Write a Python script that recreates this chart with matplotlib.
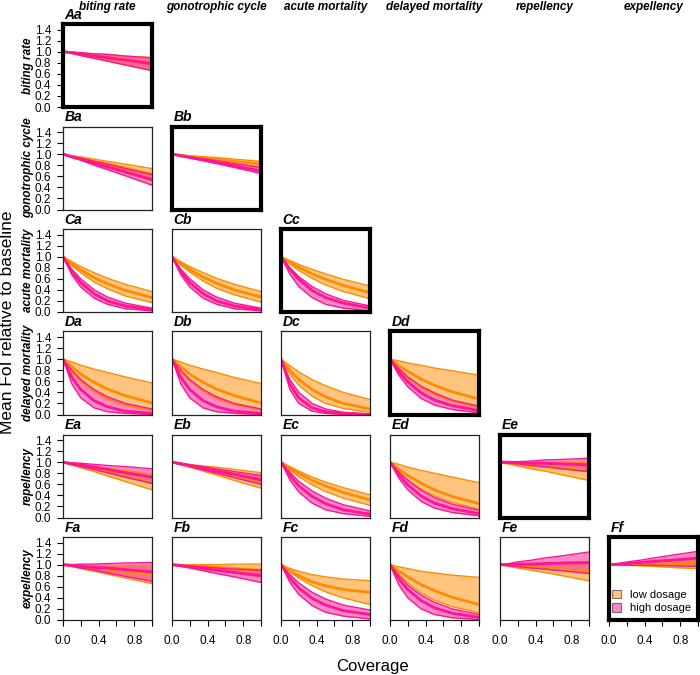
import numpy as np
import matplotlib
matplotlib.use("Agg")
from matplotlib import pyplot as plt
from matplotlib.patches import Patch

plt.rcParams['font.family'] = ['Liberation Sans', 'DejaVu Sans']

# effects (rows / columns)
effects = ["biting rate", "gonotrophic cycle", "acute mortality",
           "delayed mortality", "repellency", "expellency"]

coverage = [0, 0.1, 0.2, 0.35, 0.5, 0.7, 1.0]

# panels in order Aa, Ba, Bb, Ca, Cb, Cc, ... Ff
panels = ["Aa", "Ba", "Bb", "Ca", "Cb", "Cc", "Da", "Db", "Dc", "Dd",
          "Ea", "Eb", "Ec", "Ed", "Ee", "Fa", "Fb", "Fc", "Fd", "Fe", "Ff"]

# low dosage: lower bound, mean, upper bound
low_lo = [
    [1, .97, .93, .88, .83, .76, .66],
    [1, .95, .90, .83, .76, .66, .52],
    [1, .98, .95, .92, .88, .83, .76],
    [1, .84, .71, .54, .42, .29, .17],
    [1, .85, .72, .56, .43, .31, .18],
    [1, .87, .75, .61, .49, .37, .24],
    [1, .77, .59, .40, .27, .16, .07],
    [1, .77, .60, .41, .28, .17, .08],
    [1, .73, .53, .33, .20, .11, .04],
    [1, .81, .65, .48, .35, .23, .12],
    [1, .95, .90, .83, .75, .65, .50],
    [1, .95, .91, .84, .77, .67, .53],
    [1, .86, .74, .59, .47, .35, .22],
    [1, .83, .68, .51, .39, .27, .15],
    [1, .97, .93, .88, .84, .77, .67],
    [1, .97, .93, .88, .83, .76, .66],
    [1, .98, .96, .92, .89, .85, .78],
    [1, .87, .76, .62, .51, .40, .28],
    [1, .82, .67, .49, .36, .24, .13],
    [1, .97, .94, .90, .86, .80, .71],
    [1, .99, .99, .98, .97, .95, .93],
]
low_mid = [
    [1, .98, .96, .92, .89, .85, .78],
    [1, .96, .93, .87, .82, .75, .64],
    [1, .98, .96, .94, .91, .87, .82],
    [1, .87, .76, .62, .51, .39, .26],
    [1, .88, .77, .63, .52, .40, .27],
    [1, .90, .81, .69, .59, .48, .35],
    [1, .86, .73, .58, .46, .34, .21],
    [1, .86, .73, .58, .46, .34, .21],
    [1, .80, .63, .45, .32, .20, .10],
    [1, .88, .78, .64, .53, .41, .28],
    [1, .96, .93, .87, .82, .74, .63],
    [1, .97, .93, .88, .83, .76, .66],
    [1, .89, .80, .67, .57, .45, .32],
    [1, .87, .76, .62, .50, .38, .25],
    [1, .98, .97, .94, .92, .89, .84],
    [1, .98, .97, .94, .92, .88, .83],
    [1, .99, .98, .97, .95, .93, .90],
    [1, .89, .80, .69, .62, .55, .50],
    [1, .88, .78, .64, .53, .41, .28],
    [1, .99, .97, .95, .94, .91, .87],
    [1, 1.0, 1.0, 1.01, 1.01, 1.01, 1.02],
]
low_hi = [
    [1, .99, .98, .96, .95, .92, .89],
    [1, .97, .95, .91, .87, .82, .74],
    [1, .99, .97, .95, .94, .91, .87],
    [1, .91, .82, .71, .61, .50, .37],
    [1, .91, .82, .71, .61, .50, .37],
    [1, .93, .86, .77, .69, .59, .47],
    [1, .95, .89, .82, .76, .68, .57],
    [1, .95, .89, .82, .76, .67, .56],
    [1, .88, .77, .63, .52, .40, .27],
    [1, .97, .93, .89, .84, .79, .71],
    [1, .98, .96, .92, .89, .85, .78],
    [1, .98, .96, .93, .91, .87, .81],
    [1, .92, .84, .73, .64, .54, .41],
    [1, .96, .91, .85, .80, .73, .63],
    [1, 1.0, 1.0, 1.0, 1.0, 1.0, 1.0],
    [1, 1.0, 1.0, 1.0, 1.0, 1.0, 1.0],
    [1, 1.0, 1.0, 1.0, 1.0, 1.01, 1.01],
    [1, .93, .88, .82, .78, .74, .71],
    [1, .96, .93, .88, .85, .81, .77],
    [1, 1.0, 1.01, 1.02, 1.03, 1.04, 1.05],
    [1, 1.01, 1.02, 1.04, 1.06, 1.08, 1.12],
]

# high dosage: lower bound, mean, upper bound
high_lo = [
    [1, .97, .93, .88, .83, .76, .66],
    [1, .94, .89, .80, .72, .61, .44],
    [1, .97, .93, .88, .83, .76, .65],
    [1, .67, .45, .25, .14, .06, .02],
    [1, .67, .45, .25, .14, .06, .02],
    [1, .68, .46, .26, .14, .07, .02],
    [1, .55, .30, .12, .05, .02, .00],
    [1, .55, .30, .12, .05, .02, .00],
    [1, .45, .20, .06, .02, .00, .00],
    [1, .71, .50, .29, .17, .09, .03],
    [1, .96, .92, .87, .81, .73, .62],
    [1, .96, .92, .86, .80, .72, .60],
    [1, .68, .46, .26, .14, .07, .02],
    [1, .71, .50, .29, .17, .09, .03],
    [1, .98, .97, .94, .92, .88, .83],
    [1, .97, .94, .90, .85, .79, .70],
    [1, .97, .94, .89, .84, .78, .68],
    [1, .68, .46, .26, .14, .07, .02],
    [1, .63, .40, .20, .10, .04, .01],
    [1, .98, .97, .94, .92, .89, .84],
    [1, 1.0, .99, .99, .99, .98, .97],
]
high_mid = [
    [1, .98, .96, .92, .89, .85, .78],
    [1, .95, .91, .84, .77, .68, .54],
    [1, .97, .94, .90, .85, .79, .70],
    [1, .73, .53, .33, .20, .11, .04],
    [1, .73, .53, .33, .20, .11, .04],
    [1, .77, .59, .39, .26, .16, .07],
    [1, .67, .45, .25, .14, .06, .02],
    [1, .67, .45, .25, .14, .06, .02],
    [1, .55, .30, .12, .05, .02, .00],
    [1, .77, .59, .39, .26, .16, .07],
    [1, .97, .95, .91, .87, .81, .73],
    [1, .97, .94, .89, .84, .78, .68],
    [1, .76, .57, .38, .25, .14, .06],
    [1, .77, .59, .39, .26, .16, .07],
    [1, 1.0, .99, .98, .98, .97, .95],
    [1, .99, .97, .95, .94, .91, .87],
    [1, .98, .96, .93, .90, .86, .80],
    [1, .76, .58, .39, .27, .17, .10],
    [1, .74, .55, .35, .22, .12, .05],
    [1, 1.0, 1.01, 1.01, 1.02, 1.03, 1.04],
    [1, 1.01, 1.02, 1.04, 1.06, 1.08, 1.12],
]
high_hi = [
    [1, .99, .98, .96, .95, .92, .89],
    [1, .96, .93, .87, .82, .74, .63],
    [1, .98, .95, .92, .88, .83, .76],
    [1, .77, .60, .40, .27, .16, .07],
    [1, .77, .60, .40, .27, .16, .07],
    [1, .80, .64, .46, .33, .21, .11],
    [1, .80, .63, .45, .32, .20, .10],
    [1, .80, .63, .45, .32, .20, .10],
    [1, .63, .40, .20, .10, .04, .01],
    [1, .83, .68, .51, .39, .26, .15],
    [1, .99, .98, .96, .94, .92, .88],
    [1, .98, .95, .92, .88, .83, .76],
    [1, .82, .65, .48, .35, .23, .12],
    [1, .82, .67, .49, .36, .24, .13],
    [1, 1.01, 1.01, 1.02, 1.04, 1.05, 1.07],
    [1, 1.0, 1.01, 1.01, 1.02, 1.03, 1.04],
    [1, .99, .98, .96, .94, .92, .90],
    [1, .82, .67, .50, .38, .27, .18],
    [1, .80, .63, .45, .32, .20, .10],
    [1, 1.02, 1.05, 1.08, 1.12, 1.16, 1.23],
    [1, 1.02, 1.05, 1.08, 1.12, 1.17, 1.24],
]

low_col = "#FF8C00"
high_col = "#FF1493"

fig = plt.figure(figsize=(7, 6.75), dpi=100)

col_left = [63, 172, 281, 390, 500, 609]
row_top = [24, 126.5, 229, 331.5, 434.5, 537]
pw, ph = 89, 83

x = np.array(coverage)
k = 0
for i in range(6):
    for j in range(i + 1):
        ax = fig.add_axes([col_left[j] / 700, (675 - row_top[i] - ph) / 675,
                           pw / 700, ph / 675])
        ax.fill_between(x, low_lo[k], low_hi[k], color=low_col, alpha=0.5, lw=0)
        ax.fill_between(x, high_lo[k], high_hi[k], color=high_col, alpha=0.5, lw=0)
        ax.plot(x, low_lo[k], color=low_col, lw=1)
        ax.plot(x, low_hi[k], color=low_col, lw=1)
        ax.plot(x, low_mid[k], color=low_col, lw=2)
        ax.plot(x, high_lo[k], color=high_col, lw=1)
        ax.plot(x, high_hi[k], color=high_col, lw=1)
        ax.plot(x, high_mid[k], color=high_col, lw=2)
        ax.set_xlim(0, 1)
        ax.set_ylim(0, 1.5)

        if i == 5:
            ax.set_xticks([0, 0.2, 0.4, 0.6, 0.8, 1.0])
            ax.set_xticklabels(["0.0", "", "0.4", "", "0.8", ""])
        else:
            ax.set_xticks([])
        if j == 0:
            ax.set_yticks(np.arange(0, 1.41, 0.2))
            ax.set_yticklabels(["%.1f" % v for v in np.arange(0, 1.41, 0.2)])
        else:
            ax.set_yticks([])
        ax.tick_params(axis="x", length=4.5, pad=6, labelsize=8.5, width=0.8)
        ax.tick_params(axis="y", length=4.5, pad=4, labelsize=8.5, width=0.8)

        for s in ax.spines.values():
            if i == j:
                s.set_linewidth(3)
                s.set_color("black")
            else:
                s.set_linewidth(0.9)
                s.set_color("#222222")

        ax.text(0.02, 1.03, panels[k], transform=ax.transAxes, fontsize=10,
                fontweight="bold", fontstyle="italic", va="bottom", ha="left")

        if i == 5 and j == 5:
            handles = [Patch(facecolor=low_col, alpha=0.5, edgecolor="black"),
                       Patch(facecolor=high_col, alpha=0.5, edgecolor="black")]
            leg = ax.legend(handles, ["low dosage", "high dosage"], loc="lower right",
                            frameon=False, fontsize=8, handlelength=0.8,
                            handleheight=0.8, handletextpad=0.8, borderaxespad=0.2,
                            labelspacing=0.3)
            for h in leg.legend_handles:
                h.set_edgecolor("black")
                h.set_linewidth(0.8)
        k += 1

for j in range(6):
    fig.text((col_left[j] + pw / 2) / 700, 1 - 7 / 675, effects[j], ha="center",
             va="center", fontsize=8.5, fontstyle="italic", fontweight="bold")
for i in range(6):
    fig.text(28 / 700, (675 - row_top[i] - ph / 2) / 675, effects[i], rotation=90,
             ha="center", va="center", fontsize=8.5, fontstyle="italic",
             fontweight="bold")

fig.text(8 / 700, 1 - 322 / 675, "Mean FoI relative to baseline", rotation=90,
         ha="center", va="center", fontsize=12.5)
fig.text(372 / 700, 1 - 666 / 675, "Coverage", ha="center", va="center", fontsize=12)

fig.savefig("out.png", dpi=100)
